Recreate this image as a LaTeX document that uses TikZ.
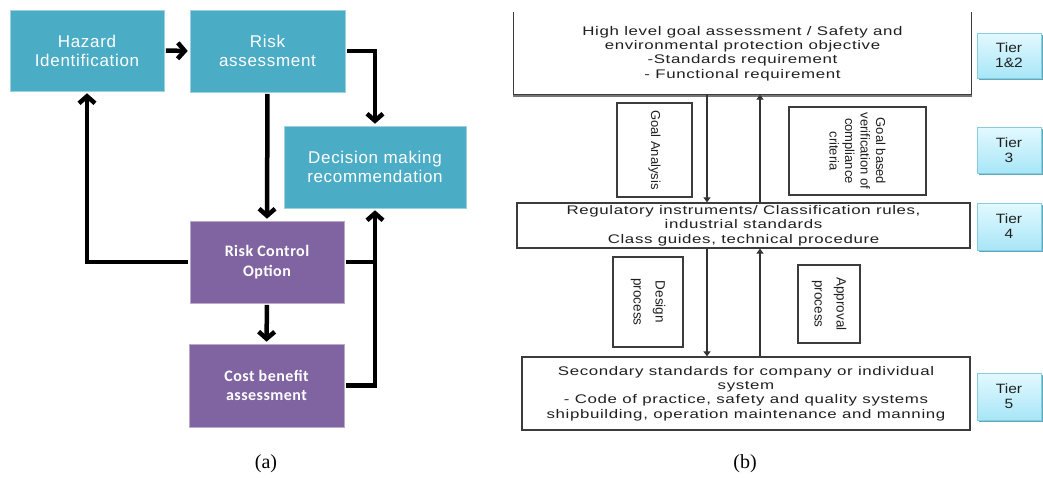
\documentclass[tikz,border=0pt]{standalone}
\usepackage{fontspec}
\setmainfont{Liberation Sans}
\newfontfamily\tealfont[LetterSpace=4]{Liberation Sans}
\newfontfamily\purpfont[LetterSpace=3]{Carlito}
\newfontfamily\wfont[FakeStretch=1.35,LetterSpace=5]{Liberation Sans}
\newfontfamily\rfont{Liberation Sans}
\newfontfamily\tierfont[FakeStretch=1.15]{Liberation Sans}
\newfontfamily\capfont{Liberation Serif}
\usetikzlibrary{arrows.meta,shadows}
\definecolor{tealc}{HTML}{4BACC6}
\definecolor{purpc}{HTML}{8064A2}
\definecolor{linec}{HTML}{333333}
\definecolor{boxc}{HTML}{3C3C3C}
\definecolor{textc}{HTML}{202020}
\definecolor{tiertop}{HTML}{E3F9FF}
\definecolor{tierbot}{HTML}{A8E6F7}
\definecolor{tierdraw}{HTML}{86CDE0}
\definecolor{tiershadow}{HTML}{5FA8BE}
\begin{document}
\begin{tikzpicture}[x=1pt,y=-1pt,
  tealbox/.style={fill=tealc, draw=tealc!55!white, line width=0.6pt, text=white,
    font=\tealfont\fontsize{17}{19}\selectfont, align=center, inner sep=0pt},
  purpbox/.style={fill=purpc, draw=purpc!55!white, line width=0.6pt, text=white,
    font=\purpfont\bfseries\fontsize{16}{19.3}\selectfont, align=center, inner sep=0pt},
  bigline/.style={line width=4.5pt, draw=black},
  bigarr/.style={bigline, -{Straight Barb[length=7pt,width=16pt]}, shorten >=2pt, shorten <=1.5pt},
  rline/.style={draw=linec, line width=1.8pt},
  rarr/.style={rline, -{Triangle[length=5pt,width=7pt]}},
  rbox/.style={draw=boxc, line width=1.3pt, fill=white, text=textc,
    font=\wfont\fontsize{12.5}{14.4}\selectfont, align=center, inner sep=0pt},
  vbox/.style={draw=boxc, line width=1.3pt, fill=white, text=textc,
    font=\rfont\fontsize{13}{15.5}\selectfont, align=center, inner sep=0pt, rotate=-90},
  tierbox/.style={top color=tiertop, bottom color=tierbot, draw=tierdraw, line width=0.8pt,
    drop shadow={shadow xshift=1.5pt, shadow yshift=-2pt, fill=tiershadow, opacity=1},
    text=textc, font=\tierfont\fontsize{13.5}{15}\selectfont, align=center, inner sep=0pt,
    minimum width=64pt},
  caplabel/.style={font=\capfont\fontsize{20}{24}\selectfont}
]
\useasboundingbox (0,0) rectangle (1043,477);
\fill[white] (0,0) rectangle (1043,477);

% ---------------- panel (a) ----------------
\node[tealbox, minimum width=154pt, minimum height=81pt] (haz) at (87,50.5) {Hazard\\Identification};
\node[tealbox, minimum width=155pt, minimum height=82pt] (risk) at (267.5,51) {Risk\\assessment};
\node[tealbox, minimum width=182pt, minimum height=82pt] (dec) at (375,167) {Decision making\\recommendation};
\node[purpbox, minimum width=154pt, minimum height=82pt] (rco) at (267,262) {Risk Control\\Option};
\node[purpbox, minimum width=155pt, minimum height=83pt] (cba) at (266.5,385.5) {Cost benefit\\assessment};

\draw[bigarr] (haz.east) -- (risk.west);
\draw[bigarr] (risk.east) -| (dec.north);
\draw[bigarr] (risk.south) -- (rco.north);
\draw[bigarr] (rco.west) -| (haz.south);
\draw[bigline, shorten <=1.5pt] (rco.east) -- (rco.east -| dec.south);
\draw[bigarr] (cba.east) -| (dec.south);
\draw[bigarr] (rco.south) -- (cba.north);

\node[caplabel] (capa) at (266,464) {(a)};

% ---------------- panel (b) ----------------
\node[rbox, draw=none, minimum width=457pt, minimum height=81pt] (top) at (742.5,53.5)
  {High level goal assessment / Safety and\\environmental protection objective\\-Standards requirement\\- Functional requirement};
\draw[draw=boxc, line width=1.3pt] (top.north west) -- (top.south west) -- (top.south east) -- (top.north east);
\draw[draw=boxc!70!white, line width=1.2pt] ([yshift=-1.4pt]top.south west) -- ([yshift=-1.4pt]top.south east);

\node[rbox, minimum width=453pt, minimum height=45pt] (reg) at (743.5,225.5)
  {Regulatory instruments/ Classification rules,\\industrial standards\\Class guides, technical procedure};
\node[rbox, minimum width=448pt, minimum height=73pt] (bot) at (746,393.5)
  {Secondary standards for company or individual\\system\\- Code of practice, safety and quality systems\\shipbuilding, operation maintenance and manning};

\node[vbox, minimum width=94pt, minimum height=75pt] (ga) at (654.5,150) {Goal Analysis};
\node[vbox, minimum width=88pt, minimum height=137pt] (gb) at (857.5,151)
  {Goal based\\verification of\\compliance\\criteria};
\node[vbox, minimum width=90pt, minimum height=70pt, font=\rfont\fontsize{13.5}{22}\selectfont] (des) at (648,302) {Design\\process};
\node[vbox, minimum width=78pt, minimum height=62pt, font=\rfont\fontsize{13.5}{22}\selectfont] (app) at (829,304) {Approval\\process};

\coordinate (dx) at (707,0);
\coordinate (ux) at (760,0);
\draw[rarr] (top.south -| dx) -- (reg.north -| dx);
\draw[rarr] (reg.north -| ux) -- (top.south -| ux);
\draw[rarr] (reg.south -| dx) -- (bot.north -| dx);
\draw[rarr] (bot.north -| ux) -- (reg.south -| ux);

\node[tierbox, minimum height=45pt] (t12) at (1009,55.5) {Tier\\1\&2};
\node[tierbox, minimum height=46pt] (t3) at (1009,150) {Tier\\3};
\node[tierbox, minimum height=47pt] (t4) at (1009,226.5) {Tier\\4};
\node[tierbox, minimum height=47pt] (t5) at (1009,396.5) {Tier\\5};

\node[caplabel] (capb) at (745,464) {(b)};
\end{tikzpicture}
\end{document}
